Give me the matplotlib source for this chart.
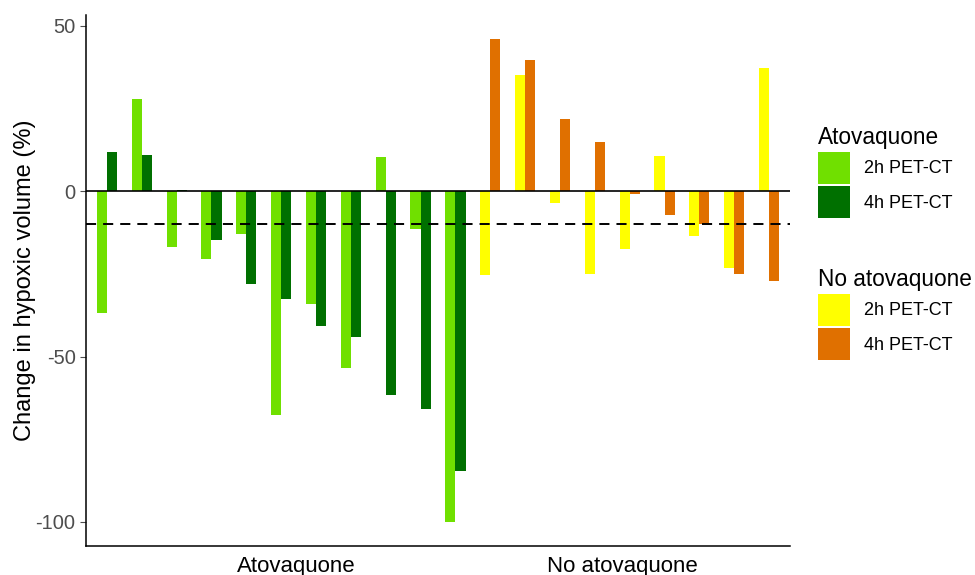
import numpy as np
import matplotlib
matplotlib.use("Agg")
import matplotlib.pyplot as plt
from matplotlib.patches import Patch

plt.rcParams['font.family'] = ['Liberation Sans', 'DejaVu Sans']

# change in hypoxic volume (%) per patient
atov_2h = [-36.7, 28.0, -16.8, -20.5, -13.0, -67.7, -34.2, -53.4, 10.3, -11.5, -100.0]
atov_4h = [11.9, 10.9, 0.3, -14.8, -28.1, -32.7, -40.7, -44.0, -61.5, -66.0, -84.7]
noatov_2h = [-25.2, 35.3, -3.7, -24.9, -17.6, 10.7, -13.5, -23.1, 37.4]
noatov_4h = [46.0, 39.6, 21.8, 15.0, -0.8, -7.1, -9.8, -25.0, -27.1]

group_labels = ["Atovaquone", "No atovaquone"]
time_labels = ["2h PET-CT", "4h PET-CT"]
threshold = -10

C_ATOV = ["#70e000", "#007000"]
C_NOATOV = ["#ffff00", "#e07000"]

fig = plt.figure(figsize=(9.75, 5.75), dpi=100)
ax = fig.add_axes([86 / 975, 1 - 546 / 575, (790 - 86) / 975, (546 - 15) / 575])

w = 0.29
xa = np.arange(len(atov_2h))
xn = np.arange(len(noatov_2h)) + len(atov_2h)

ax.bar(xa - w / 2, atov_2h, width=w, color=C_ATOV[0])
ax.bar(xa + w / 2, atov_4h, width=w, color=C_ATOV[1])
ax.bar(xn - w / 2, noatov_2h, width=w, color=C_NOATOV[0])
ax.bar(xn + w / 2, noatov_4h, width=w, color=C_NOATOV[1])

ax.axhline(0, color="black", lw=1.2, zorder=3)
ax.axhline(threshold, color="black", lw=1.4, dashes=(5.2, 3.6), zorder=3)

ax.set_xlim(-0.6, len(xa) + len(xn) - 0.4)
ax.set_ylim(-107.3, 53.3)
ax.set_yticks([50, 0, -50, -100])
ax.set_yticklabels(["50", "0", "-50", "-100"])
ax.tick_params(axis="y", colors="#4d4d4d", labelsize=14.5, length=4, width=0.8)
ax.set_xticks([5.44, 14.79])
ax.set_xticklabels(group_labels)
ax.tick_params(axis="x", length=0, labelsize=16, labelcolor="black", pad=7)

for s in ["top", "right"]:
    ax.spines[s].set_visible(False)
for s in ["left", "bottom"]:
    ax.spines[s].set_linewidth(1.1)
    ax.spines[s].set_color("black")

ax.set_ylabel("Change in hypoxic volume (%)", fontsize=17, labelpad=0)

h1 = [Patch(facecolor=c, edgecolor="none") for c in C_ATOV]
h2 = [Patch(facecolor=c, edgecolor="none") for c in C_NOATOV]
common = dict(frameon=False, fontsize=13, handlelength=1.77, handleheight=2.35,
              labelspacing=0.15, handletextpad=0.75, borderpad=0, borderaxespad=0,
              loc="upper left", alignment="left", title_fontsize=16.3,
              bbox_transform=fig.transFigure)
leg1 = ax.legend(h1, time_labels, title=group_labels[0],
                 bbox_to_anchor=(818 / 975, 1 - 126 / 575), **common)
ax.add_artist(leg1)
leg2 = ax.legend(h2, time_labels, title=group_labels[1],
                 bbox_to_anchor=(818 / 975, 1 - 268 / 575), **common)

fig.savefig("out.png", dpi=100)
